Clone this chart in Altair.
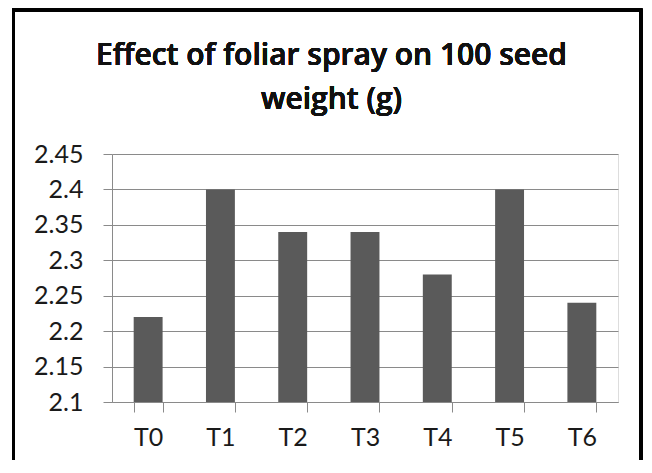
import altair as alt
import pandas as pd

categories = ["T0", "T1", "T2", "T3", "T4", "T5", "T6"]
values = [2.22, 2.40, 2.34, 2.34, 2.28, 2.40, 2.24]
y_ticks = [2.1, 2.15, 2.2, 2.25, 2.3, 2.35, 2.4, 2.45]
title_line1 = "Effect of foliar spray on 100 seed"
title_line2 = "weight (g)"

df = pd.DataFrame({"cat": categories, "val": values})

FONT = "Lato"
GRID = "#8a8a8a"

bars = alt.Chart(df).mark_bar(color="#5a5a5a").encode(
    x=alt.X("cat:N", sort=categories,
            scale=alt.Scale(paddingInner=0.6, paddingOuter=0.3),
            axis=alt.Axis(title=None, labelAngle=0, tickBand="extent",
                          labelFont=FONT, labelFontSize=25, labelColor="#1a1a1a",
                          labelPadding=13, tickSize=10, tickColor=GRID,
                          domainColor=GRID, grid=False)),
    y=alt.Y("val:Q", scale=alt.Scale(domain=[2.1, 2.45], zero=False, nice=False),
            axis=alt.Axis(title=None, values=y_ticks, format=".2~f",
                          labelFont=FONT, labelFontSize=25, labelColor="#1a1a1a",
                          labelPadding=20, tickSize=9, tickColor=GRID,
                          domainColor=GRID, gridColor=GRID, grid=True)),
    y2=alt.datum(2.1),
)

frame = alt.Chart(df).mark_rect(filled=False, stroke="black", strokeWidth=3).encode(
    x=alt.value(-98.5), x2=alt.value(529), y=alt.value(-144), y2=alt.value(420)
)

title_style = dict(font="Open Sans", fontSize=30, fontWeight=600, color="#111111",
                   align="center", baseline="alphabetic")
t1 = alt.Chart(df).mark_text(**title_style).encode(
    x=alt.value(219.5), y=alt.value(-89), text=alt.value(title_line1))
t2 = alt.Chart(df).mark_text(**title_style).encode(
    x=alt.value(219.5), y=alt.value(-45), text=alt.value(title_line2))

chart = alt.layer(bars, frame, t1, t2).properties(
    width=506, height=248,
    autosize=alt.AutoSizeParams(type="none"),
    padding={"left": 104, "top": 146, "right": 26, "bottom": 58},
).configure_view(stroke=None).configure(background="white")

chart.save("out.html", embed_options={"renderer": "svg", "actions": False})
